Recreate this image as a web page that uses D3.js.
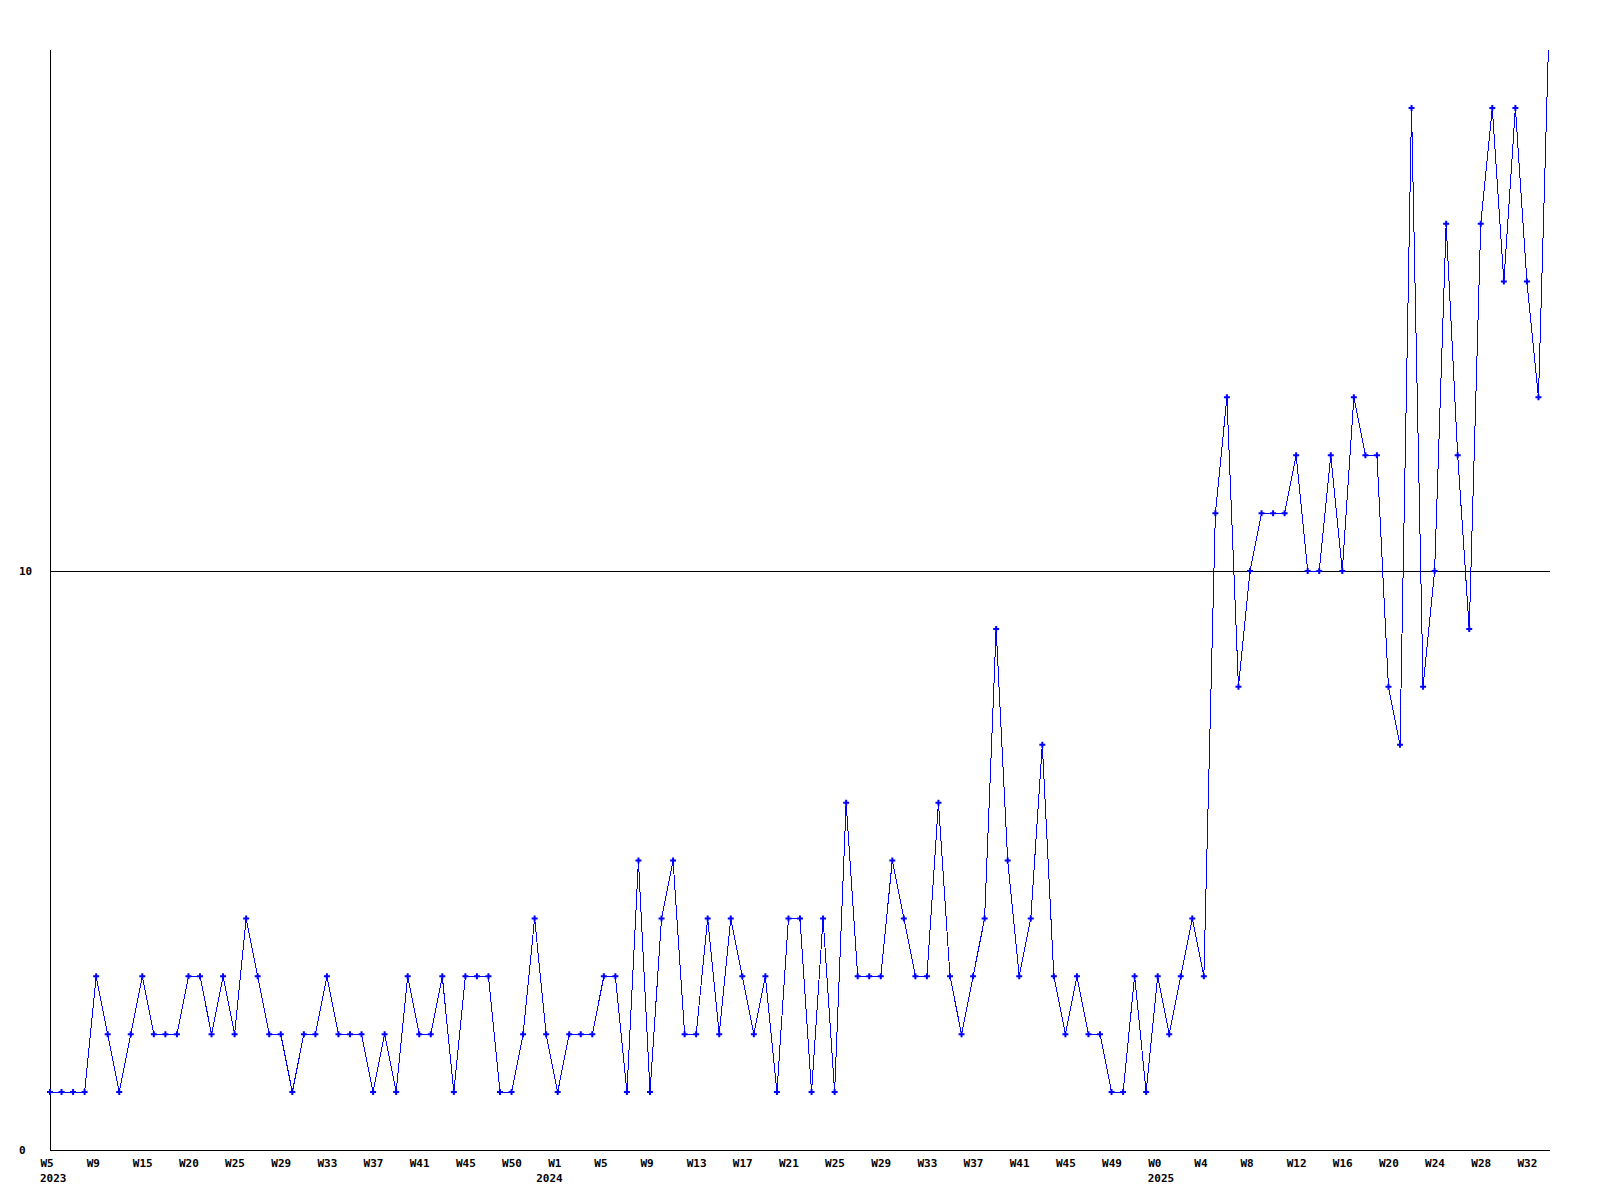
<!DOCTYPE html>
<html>
<head>
<meta charset="utf-8">
<script src="https://cdn.jsdelivr.net/npm/d3@7"></script>
<style>
  html, body { margin: 0; padding: 0; background: #fff; }
  svg { display: block; }
  text { font-family: "DejaVu Sans Mono", "Liberation Mono", monospace; font-weight: bold; font-size: 11px; fill: #000; }
</style>
</head>
<body>
<svg id="chart" width="1600" height="1200"></svg>
<script>
// ---- data ----
const values = [
  1, 1, 1, 1, 3, 2, 1, 2, 3, 2,
  2, 2, 3, 3, 2, 3, 2, 4, 3, 2,
  2, 1, 2, 2, 3, 2, 2, 2, 1, 2,
  1, 3, 2, 2, 3, 1, 3, 3, 3, 1,
  1, 2, 4, 2, 1, 2, 2, 2, 3, 3,
  1, 5, 1, 4, 5, 2, 2, 4, 2, 4,
  3, 2, 3, 1, 4, 4, 1, 4, 1, 6,
  3, 3, 3, 5, 4, 3, 3, 6, 3, 2,
  3, 4, 9, 5, 3, 4, 7, 3, 2, 3,
  2, 2, 1, 1, 3, 1, 3, 2, 3, 4,
  3, 11, 13, 8, 10, 11, 11, 11, 12, 10,
  10, 12, 10, 13, 12, 12, 8, 7, 18, 8,
  10, 16, 12, 9, 16, 18, 15, 18, 15, 13,
  20
];
const weekLabels = ["W5","W9","W15","W20","W25","W29","W33","W37","W41","W45","W50",
  "W1","W5","W9","W13","W17","W21","W25","W29","W33","W37","W41","W45","W49",
  "W0","W4","W8","W12","W16","W20","W24","W28","W32"];
const weekLabelEvery = 4;
const yearLabels = ["2023", "2024", "2025"];
const yearStartIndex = [0, 43, 96];
const yTicks = [0, 10];
const yMax = 19;

// ---- layout ----
const svg = d3.select("#chart");
const mLeft = 50, mRight = 1550, mTop = 50, mBottom = 1150;

const idx = d3.range(values.length);
const x = d3.scalePoint().domain(idx).range([mLeft, mRight]);
const y = d3.scaleLinear().domain([0, yMax]).range([mBottom, mTop]);

svg.append("defs").append("clipPath").attr("id", "plotclip")
  .append("rect").attr("x", mLeft - 5).attr("y", mTop).attr("width", mRight - mLeft + 10).attr("height", mBottom - mTop + 5);

// grid line at 10
svg.append("g").selectAll("line").data(yTicks.filter(d => d > 0)).join("line")
  .attr("x1", mLeft).attr("x2", mRight)
  .attr("y1", d => Math.round(y(d)) + 0.5).attr("y2", d => Math.round(y(d)) + 0.5)
  .attr("stroke", "#000").attr("stroke-width", 1);

// y axis
const yAxis = svg.append("g").attr("transform", `translate(${mLeft + 0.5},0)`)
  .call(d3.axisLeft(y).tickValues(yTicks).tickSize(0).tickSizeOuter(0).tickFormat(d3.format("d")));
yAxis.select(".domain").attr("stroke", "#000").attr("d", `M0,${mTop}V${mBottom + 0.5}`);
yAxis.selectAll("text")
  .attr("text-anchor", "start").attr("x", 19 - mLeft - 0.5).attr("dy", "0.32em")
  .style("font-family", "DejaVu Sans Mono").style("font-size", "11px").style("font-weight", "bold");

// x axis
const tickIdx = idx.filter(i => i % weekLabelEvery === 0).slice(0, weekLabels.length);
const xAxis = svg.append("g").attr("transform", `translate(0,${mBottom + 0.5})`)
  .call(d3.axisBottom(x).tickValues(tickIdx).tickSize(0).tickSizeOuter(0)
    .tickFormat(i => weekLabels[i / weekLabelEvery]));
xAxis.select(".domain").attr("stroke", "#000").attr("d", `M${mLeft},0H${mRight}`);
xAxis.selectAll("text")
  .attr("text-anchor", "start").attr("dx", -10).attr("y", 16.5).attr("dy", 0)
  .style("font-family", "DejaVu Sans Mono").style("font-size", "11px").style("font-weight", "bold");

// year labels
svg.append("g").selectAll("text").data(yearLabels).join("text")
  .attr("x", (d, k) => x(yearStartIndex[k]) - 10)
  .attr("y", mBottom + 32)
  .text(d => d);

// series
const plot = svg.append("g").attr("clip-path", "url(#plotclip)");
plot.append("path").datum(values)
  .attr("fill", "none").attr("stroke", "#0000ff").attr("stroke-width", 1)
  .attr("shape-rendering", "crispEdges")
  .attr("d", d3.line().x((d, i) => x(i)).y(d => y(d)));

plot.append("g").selectAll("path").data(values).join("path")
  .attr("transform", (d, i) => `translate(${x(i)},${y(d)})`)
  .attr("d", d3.symbol(d3.symbolCross, 20))
  .attr("fill", "#0000ff");
</script>
</body>
</html>
